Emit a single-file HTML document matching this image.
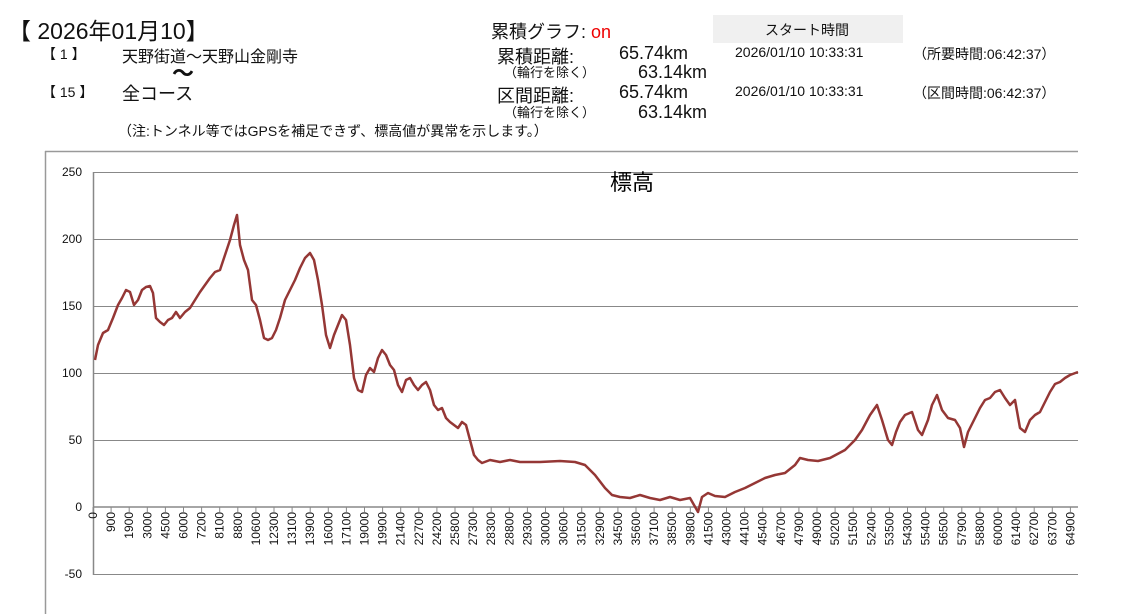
<!DOCTYPE html>
<html><head><meta charset="utf-8"><style>
body{margin:0;width:1137px;height:614px;background:#fff;overflow:hidden;position:relative;font-family:"Liberation Sans","Noto Sans CJK JP",sans-serif;color:#111}
.t{position:absolute;white-space:nowrap}
</style></head><body>
<div class="t" style="left:8px;top:12px;font-size:23px">【 2026年01月10】</div>
<div class="t" style="left:42px;top:44px;font-size:14px">【 1 】</div>
<div class="t" style="left:122px;top:43px;font-size:16px">天野街道～天野山金剛寺</div>
<div class="t" style="left:172px;top:56px;font-size:22px;font-weight:bold">～</div>
<div class="t" style="left:42px;top:82px;font-size:14px">【 15 】</div>
<div class="t" style="left:122px;top:80px;font-size:18px">全コース</div>
<div class="t" style="left:118px;top:121px;font-size:14px">（注:トンネル等ではGPSを補足できず、標高値が異常を示します。）</div>
<div class="t" style="left:491px;top:18px;font-size:18px">累積グラフ: <span style="color:#e00">on</span></div>
<div style="position:absolute;left:713px;top:15px;width:190px;height:28px;background:#f0f0f0"></div>
<div class="t" style="left:765px;top:20px;font-size:14px">スタート時間</div>
<div class="t" style="left:497px;top:43px;font-size:18px">累積距離:</div>
<div class="t" style="left:619px;top:43px;font-size:18px">65.74km</div>
<div class="t" style="left:504px;top:62px;font-size:13px">（輪行を除く）</div>
<div class="t" style="left:638px;top:62px;font-size:18px">63.14km</div>
<div class="t" style="left:497px;top:82px;font-size:18px">区間距離:</div>
<div class="t" style="left:619px;top:82px;font-size:18px">65.74km</div>
<div class="t" style="left:504px;top:102px;font-size:13px">（輪行を除く）</div>
<div class="t" style="left:638px;top:102px;font-size:18px">63.14km</div>
<div class="t" style="left:735px;top:44px;font-size:14px">2026/01/10 10:33:31</div>
<div class="t" style="left:735px;top:83px;font-size:14px">2026/01/10 10:33:31</div>
<div class="t" style="left:913px;top:44px;font-size:14px">（所要時間:06:42:37）</div>
<div class="t" style="left:913px;top:83px;font-size:14px">（区間時間:06:42:37）</div>
<svg style="position:absolute;left:0;top:0" width="1137" height="614" font-family="Liberation Sans, sans-serif">
<line x1="45.5" y1="151" x2="45.5" y2="614" stroke="#999" stroke-width="1.5"/>
<line x1="45" y1="151.5" x2="1078" y2="151.5" stroke="#999" stroke-width="1.5"/>
<g stroke="#888" stroke-width="1">
<line x1="93" y1="172.5" x2="1078" y2="172.5"/><line x1="93" y1="239.5" x2="1078" y2="239.5"/><line x1="93" y1="306.5" x2="1078" y2="306.5"/><line x1="93" y1="373.5" x2="1078" y2="373.5"/><line x1="93" y1="440.5" x2="1078" y2="440.5"/><line x1="93" y1="574.5" x2="1078" y2="574.5"/>
</g>
<line x1="93.5" y1="172" x2="93.5" y2="575" stroke="#888" stroke-width="1.5"/>
<line x1="93" y1="507" x2="1078" y2="507" stroke="#888" stroke-width="1.5"/>
<g font-size="12" text-anchor="end" fill="#111">
<text x="82" y="176">250</text><text x="82" y="243">200</text><text x="82" y="310">150</text><text x="82" y="377">100</text><text x="82" y="444">50</text><text x="82" y="511">0</text><text x="82" y="578">-50</text>
</g>
<text x="632" y="190" font-size="22" text-anchor="middle" font-family="Liberation Sans, Noto Sans CJK JP, sans-serif">標高</text>
<g id="xt" font-size="12" fill="#111"></g>
<polyline fill="none" stroke="#953735" stroke-width="2.5" stroke-linejoin="round" points="95,360 98,345 103,333 108,330 113,318 118,305 122,298 126,290 130,292 134,305 138,300 142,290 146,287 150,286 153,293 156,318 160,322 164,325 168,320 172,318 176,312 180,318 185,312 190,308 195,300 200,292 205,285 210,278 215,272 220,270 225,255 230,240 234,225 237,215 240,245 244,260 248,270 252,300 256,305 260,320 264,338 268,340 272,338 276,330 280,318 285,300 290,290 295,280 300,268 305,258 310,253 314,260 318,280 322,305 326,335 330,348 334,335 338,325 342,315 346,320 350,345 354,378 358,390 362,392 366,375 370,368 374,372 378,358 382,350 386,355 390,365 394,370 398,385 402,392 406,380 410,378 414,385 418,390 422,385 426,382 430,390 434,405 438,410 442,408 446,418 450,422 454,425 458,428 462,422 466,425 470,440 474,455 478,460 482,463 490,460 500,462 510,460 520,462 540,462 560,461 575,462 585,465 595,475 605,488 612,495 620,497 630,498 640,495 650,498 660,500 670,497 680,500 690,498 698,512 702,497 708,493 715,496 725,497 735,492 745,488 755,483 765,478 775,475 785,473 795,465 800,458 808,460 818,461 830,458 845,450 855,440 862,430 870,415 877,405 882,420 888,440 892,445 896,432 900,422 905,415 912,412 918,430 922,435 928,420 932,405 937,395 942,410 948,418 955,420 960,428 964,447 968,432 975,418 980,408 985,400 990,398 995,392 1000,390 1005,398 1010,405 1015,400 1020,428 1025,432 1030,420 1035,415 1040,412 1045,402 1050,392 1055,384 1060,382 1065,378 1070,375 1078,372"/>
</svg>
<script>
var L="0,900,1900,3000,4500,6000,7200,8100,8800,10600,12300,13100,13900,16000,17100,19000,19900,21400,22700,24200,25800,27300,28300,28800,29300,30000,30600,31500,32900,34500,35600,37100,38500,39800,41500,43000,44100,45400,46700,47900,49000,50200,51500,52400,53500,54300,55400,56500,57900,58800,60000,61400,62700,63700,64900".split(",");
var g=document.getElementById("xt"),s="";
L.forEach(function(v,i){var x=93+i*18.1;s+='<line x1="'+x+'" y1="507" x2="'+x+'" y2="512" stroke="#888"/><text transform="translate('+(x+4)+',512) rotate(-90)" text-anchor="end">'+v+'</text>';});
g.innerHTML=s;
</script>
</body></html>
